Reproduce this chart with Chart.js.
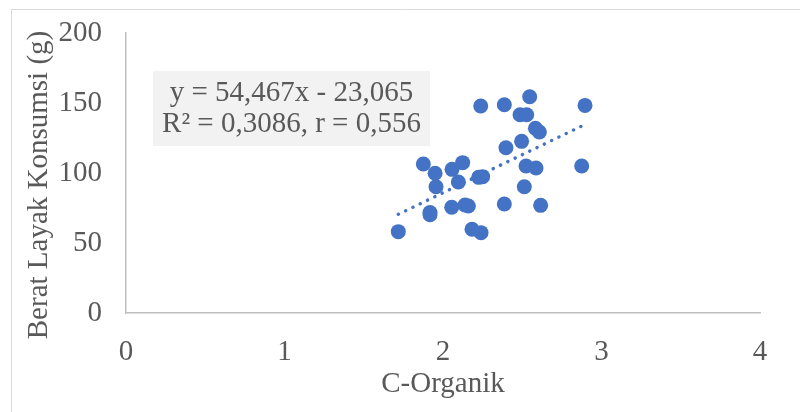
<!DOCTYPE html>
<html>
<head>
<meta charset="utf-8">
<script src="https://cdn.jsdelivr.net/npm/chart.js@4.4.0/dist/chart.umd.min.js"></script>
<style>
  html, body { margin: 0; padding: 0; background: #ffffff; }
  #wrap { width: 800px; height: 412px; position: relative; }
</style>
</head>
<body>
<div id="wrap"><canvas id="c" width="800" height="412"></canvas></div>
<script>
// ---- data ----
const cOrganik = [2.238, 2.387, 2.547, 2.896, 2.486, 2.528, 2.583, 2.608, 2.496, 2.397,
                  1.876, 2.124, 2.057, 1.950, 2.524, 2.587, 2.875, 2.225, 2.250, 2.097,
                  1.956, 2.513, 1.918, 1.918, 2.055, 2.139, 2.160, 2.387, 2.616, 1.718,
                  2.183, 2.240];
const beratLayak = [147.9, 148.8, 154.5, 148.3, 141.6, 141.6, 132.0, 129.3, 122.6, 118.0,
                    106.4, 107.4, 102.6, 99.8, 105.0, 103.6, 105.0, 96.9, 97.4, 93.6,
                    90.2, 90.2, 71.7, 70.2, 75.5, 77.1, 76.4, 77.9, 76.9, 58.1,
                    59.8, 57.4];
const slope = 54.467;
const intercept = -23.065;
const equationLines = ["y = 54,467x - 23,065", "R\u00B2 = 0,3086, r = 0,556"];
const xTicks = [0, 1, 2, 3, 4];
const yTicks = [0, 50, 100, 150, 200];
const xTitle = "C-Organik";
const yTitle = "Berat Layak Konsumsi (g)";

const points = cOrganik.map((x, i) => ({ x: x, y: beratLayak[i] }));
const xMin = Math.min(...cOrganik), xMax = Math.max(...cOrganik);
const trend = [xMin, xMax].map(x => ({ x: x, y: slope * x + intercept }));

const FONT = "'Liberation Serif', 'Times New Roman', serif";
const FS = 29;
const TXT = "#595959";

const framePlugin = {
  id: 'frame',
  beforeDraw(chart) {
    const ctx = chart.ctx;
    ctx.save();
    ctx.strokeStyle = '#d9d9d9';
    ctx.lineWidth = 1;
    ctx.beginPath();
    ctx.moveTo(11.5, 420);
    ctx.lineTo(11.5, 9.5);
    ctx.lineTo(800, 9.5);
    ctx.stroke();
    ctx.restore();
  },
  afterDraw(chart) {
    const ctx = chart.ctx;
    const a = chart.chartArea;
    ctx.save();
    ctx.fillStyle = TXT;
    ctx.font = FS + "px " + FONT;
    ctx.textAlign = 'center';
    ctx.textBaseline = 'middle';
    ctx.translate(a.left - 87, (a.top + a.bottom) / 2 + 12);
    ctx.rotate(-Math.PI / 2);
    ctx.fillText(yTitle, 0, 0);
    ctx.restore();
  }
};

const labelPlugin = {
  id: 'eqlabel',
  afterDatasetsDraw(chart) {
    const ctx = chart.ctx;
    const a = chart.chartArea;
    const bx = a.left + 27, by = a.top + 38, bw = 277, bh = 75;
    ctx.save();
    ctx.fillStyle = '#f2f2f2';
    ctx.fillRect(bx, by, bw, bh);
    ctx.fillStyle = TXT;
    ctx.font = FS + "px " + FONT;
    ctx.textAlign = 'center';
    ctx.textBaseline = 'middle';
    ctx.fillText(equationLines[0], bx + bw / 2, by + 22);
    ctx.fillText(equationLines[1], bx + bw / 2, by + 53);
    ctx.restore();
  }
};

new Chart(document.getElementById('c'), {
  type: 'scatter',
  data: {
    datasets: [
      {
        type: 'line',
        data: trend,
        borderColor: '#4472C4',
        borderWidth: 3.5,
        borderDash: [0.1, 8],
        borderCapStyle: 'round',
        pointRadius: 0,
        fill: false,
        order: 0
      },
      {
        data: points,
        backgroundColor: '#4472C4',
        borderColor: '#4472C4',
        borderWidth: 0,
        pointRadius: 7.5,
        pointHoverRadius: 7.5,
        order: 1
      }
    ]
  },
  options: {
    responsive: false,
    animation: false,
    devicePixelRatio: 1,
    layout: { padding: { left: 0, right: 40, top: 33, bottom: 0 } },
    plugins: { legend: { display: false }, tooltip: { enabled: false } },
    scales: {
      x: {
        type: 'linear',
        min: 0, max: 4,
        afterBuildTicks(s) { s.ticks = xTicks.map(v => ({ value: v })); },
        afterFit(s) { s.height = 99; },
        grid: { display: false, drawTicks: false },
        border: { display: true, color: '#bfbfbf', width: 1.5 },
        ticks: { color: TXT, font: { family: FONT, size: FS }, padding: 22 },
        title: { display: true, text: xTitle, color: TXT, font: { family: FONT, size: FS }, padding: { top: 0, bottom: 10 } }
      },
      y: {
        type: 'linear',
        min: 0, max: 200,
        afterBuildTicks(s) { s.ticks = yTicks.map(v => ({ value: v })); },
        afterFit(s) { s.width = 126; },
        grid: { display: true, drawOnChartArea: false, drawTicks: true, tickLength: 24, color: 'rgba(0,0,0,0)' },
        border: { display: true, color: '#bfbfbf', width: 1.5 },
        ticks: { color: TXT, font: { family: FONT, size: FS }, padding: 0 }
      }
    }
  },
  plugins: [framePlugin, labelPlugin]
});
</script>
</body>
</html>
